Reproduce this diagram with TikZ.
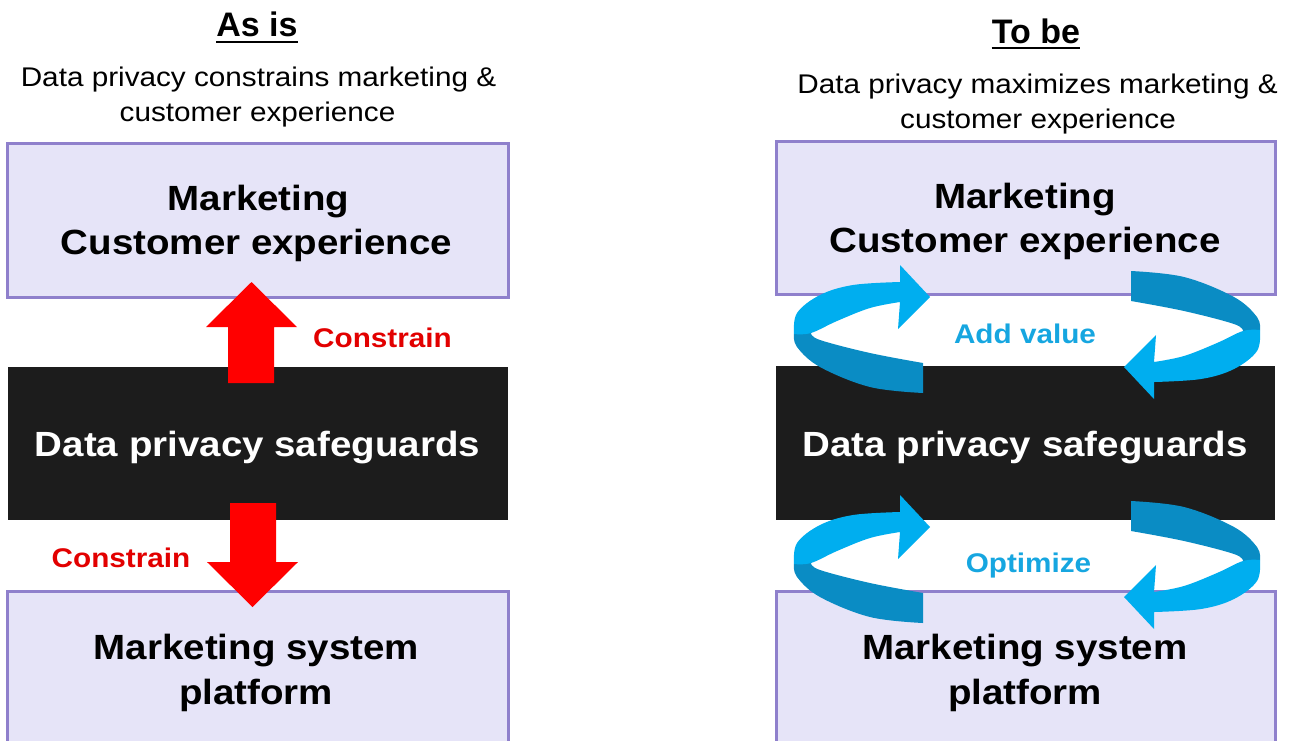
\documentclass[tikz,border=0pt]{standalone}
\usepackage{fontspec}
\setmainfont{Liberation Sans}
\newfontfamily\widefont{Liberation Sans}[FakeStretch=1.1]
\definecolor{boxfill}{RGB}{230,228,248}
\definecolor{boxline}{RGB}{143,128,204}
\definecolor{blackbox}{RGB}{28,28,28}
\definecolor{arrowred}{RGB}{255,0,0}
\definecolor{labelred}{RGB}{226,0,0}
\definecolor{bluelight}{RGB}{0,174,239}
\definecolor{bluedark}{RGB}{10,140,196}
\definecolor{bluetext}{RGB}{22,166,224}
\newcommand{\blueloop}{%
  \fill[bluedark] plot[smooth, tension=0.6] coordinates {(-104,61) (-157,55) (-207,35) (-230,15) (-233,2)}
    -- plot[smooth, tension=0.6] coordinates {(-216,1) (-207,8) (-157,21) (-104,31)} -- cycle;
  \fill[bluelight] plot[smooth, tension=0.6] coordinates {(-233,2) (-230,-19) (-207,-37) (-174,-47) (-127,-50)}
    -- (-127,-67) -- (-97,-35) -- (-129,-3) -- (-127,-30)
    -- plot[smooth, tension=0.6] coordinates {(-127,-30) (-157,-24) (-190,-11) (-216,1) (-233,2)} -- cycle;
}
\begin{document}
\begin{tikzpicture}[x=1pt,y=-1pt,
  box/.style={draw=boxline, fill=boxfill, line width=3pt, inner sep=0pt},
  darkbox/.style={fill=blackbox, inner sep=0pt},
  titletxt/.style={font=\bfseries\fontsize{34}{40}\selectfont, anchor=base, inner sep=0pt},
  subtxt/.style={font=\widefont\fontsize{27}{32}\selectfont, anchor=base, inner sep=0pt},
  boxtxt/.style={font=\widefont\bfseries\fontsize{35}{42}\selectfont, anchor=base, inner sep=0pt},
  whitetxt/.style={boxtxt, text=white},
  redlbl/.style={font=\widefont\bfseries\fontsize{27}{32}\selectfont, text=labelred, anchor=base, inner sep=0pt},
  bluelbl/.style={font=\widefont\bfseries\fontsize{27}{32}\selectfont, text=bluetext, anchor=base, inner sep=0pt},
  redarrow/.style={fill=arrowred},
  uline/.style={line width=2.2pt}
]
\useasboundingbox (0,0) rectangle (1289,740);

% ---------- left panel ----------
\node[titletxt] (asis) at (257,36.7) {As is};
\draw[uline] ([yshift=-5.5pt]asis.base west) -- ([yshift=-5.5pt]asis.base east);
\node[subtxt] (lsub1) at (258.5,86.5) {Data privacy constrains marketing \&};
\node[subtxt] (lsub2) at (257.5,121) {customer experience};

\node[box, minimum width=501pt, minimum height=153.5pt] (ltop) at (258,220.25) {};
\node[darkbox, minimum width=500pt, minimum height=153pt] (lblack) at (258,443.5) {};
\node[box, minimum width=501pt, minimum height=153.5pt] (lbot) at (258,668.25) {};

\node[boxtxt] (lt1) at (258.5,210) {Marketing};
\node[boxtxt] (lt2) at (256.5,254) {Customer experience};
\node[whitetxt] (lm) at (257.5,456.5) {Data privacy safeguards};
\node[boxtxt] (lb1) at (256.5,659) {Marketing system};
\node[boxtxt] (lb2) at (256,704) {platform};

% red block arrows
\fill[redarrow] (228,383) -- (228,327) -- (206,327) -- (251.5,282) -- (297,327) -- (274,327) -- (274,383) -- cycle;
\fill[redarrow] (230,503) -- (230,562) -- (207,562) -- (252.5,607) -- (298,562) -- (276,562) -- (276,503) -- cycle;
\node[redlbl] (c1) at (382.5,347) {Constrain};
\node[redlbl] (c2) at (121,567) {Constrain};

% ---------- right panel ----------
\node[titletxt] (tobe) at (1036,43.3) {To be};
\draw[uline] ([yshift=-4.8pt]tobe.base west) -- ([yshift=-4.8pt]tobe.base east);
\node[subtxt] (rsub1) at (1037.5,93.5) {Data privacy maximizes marketing \&};
\node[subtxt] (rsub2) at (1038,128.5) {customer experience};

\node[box, minimum width=499pt, minimum height=153pt] (rtop) at (1025.5,217.5) {};
\node[darkbox, minimum width=499pt, minimum height=154pt] (rblack) at (1025.5,443) {};
\node[box, minimum width=499pt, minimum height=153.5pt] (rbot) at (1025.5,668.25) {};

\node[boxtxt] (rt1) at (1025,208) {Marketing};
\node[boxtxt] (rt2) at (1025,252) {Customer experience};
\node[whitetxt] (rm) at (1025,456) {Data privacy safeguards};
\node[boxtxt] (rb1) at (1025,659) {Marketing system};
\node[boxtxt] (rb2) at (1025,704) {platform};

% circular arrows
\begin{scope}[shift={(1027,332)}] \blueloop \end{scope}
\begin{scope}[shift={(1027,332)}, rotate=180] \blueloop \end{scope}
\begin{scope}[shift={(1027,562)}] \blueloop \end{scope}
\begin{scope}[shift={(1027,562)}, rotate=180] \blueloop \end{scope}

\node[bluelbl] (addv) at (1025,343) {Add value};
\node[bluelbl] (optm) at (1028.5,572) {Optimize};
\end{tikzpicture}
\end{document}
